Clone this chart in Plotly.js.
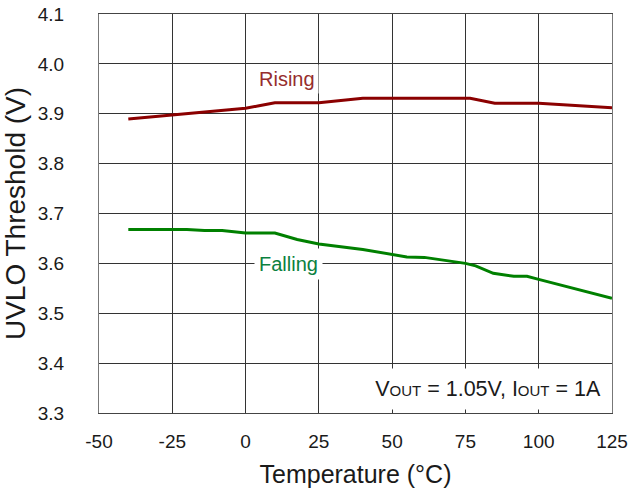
<!DOCTYPE html>
<html>
<head>
<meta charset="utf-8">
<script src="https://cdn.plot.ly/plotly-3.0.1.min.js"></script>
<style>html,body{margin:0;padding:0;background:#fff;}#chart{width:630px;height:495px;}</style>
</head>
<body>
<div id="chart"></div>
<script>
// Rising threshold
var risingTemp = [-40, -25, 0, 4.6, 10, 25, 40, 76.6, 85, 100, 125];
var risingV    = [3.8895, 3.898, 3.911, 3.916, 3.922, 3.922, 3.931, 3.931, 3.921, 3.921, 3.912];
// Falling threshold
var fallingTemp = [-40, -25, -20, -14, -8, 0, 10, 17.6, 25, 40, 47, 55, 61, 75, 78.5, 84.5, 91.5, 96, 100, 125];
var fallingV    = [3.668, 3.668, 3.668, 3.666, 3.666, 3.661, 3.661, 3.648, 3.639, 3.628, 3.621, 3.613, 3.612, 3.600, 3.595, 3.580, 3.574, 3.574, 3.568, 3.530];
var xTicks = [-50, -25, 0, 25, 50, 75, 100, 125];
var yTicks = [3.3, 3.4, 3.5, 3.6, 3.7, 3.8, 3.9, 4.0, 4.1];

var font = "Liberation Sans, Arial, sans-serif";
var ink = "#1a1a1a";
var traces = [
  {x: risingTemp, y: risingV, mode: "lines", line: {color: "#8B0000", width: 3}, hoverinfo: "skip"},
  {x: fallingTemp, y: fallingV, mode: "lines", line: {color: "#008000", width: 3}, hoverinfo: "skip"}
];
var layout = {
  width: 630, height: 495,
  margin: {l: 99, r: 18, t: 14, b: 82},
  paper_bgcolor: "#fff", plot_bgcolor: "#fff",
  showlegend: false,
  font: {family: font, color: ink, size: 19},
  xaxis: {
    range: [-50, 125], tickvals: xTicks, ticktext: xTicks.map(String),
    showgrid: true, gridcolor: "#333", gridwidth: 1,
    showline: true, linecolor: "#444", linewidth: 1, mirror: true,
    ticks: "", zeroline: false, ticklabelstandoff: 11,
    tickfont: {size: 19, family: font, color: ink},
    title: {text: "Temperature (°C)", font: {size: 25, family: font, color: ink}, standoff: 14}
  },
  yaxis: {
    range: [3.3, 4.1], tickvals: yTicks, ticktext: yTicks.map(function(v){return v.toFixed(1);}),
    showgrid: true, gridcolor: "#333", gridwidth: 1,
    showline: true, linecolor: "#777", linewidth: 1, mirror: true,
    ticks: "", zeroline: false, ticklabelstandoff: 30,
    tickfont: {size: 19, family: font, color: ink},
    title: {text: "UVLO Threshold (V)", font: {size: 28, family: font, color: ink}, standoff: 8}
  },
  annotations: [
    {x: 14.1, y: 3.970, xref: "x", yref: "y", text: "Rising", showarrow: false,
     font: {size: 20, family: font, color: "#962D2D"}, bgcolor: "#fff", borderpad: 3},
    {x: 14.6, y: 3.599, xref: "x", yref: "y", text: "Falling", showarrow: false,
     font: {size: 20, family: font, color: "#0B8040"}, bgcolor: "#fff", borderpad: 4},
    {x: 125, y: 3.349, xref: "x", yref: "y", xanchor: "right", xshift: -2,
     text: "V<span style=\"font-size:15px\">OUT</span> = 1.05V, I<span style=\"font-size:15px\">OUT</span> = 1A",
     showarrow: false, width: 255, align: "right",
     font: {size: 21.5, family: font, color: ink}, bgcolor: "#fff", borderpad: 8}
  ]
};
Plotly.newPlot("chart", traces, layout, {staticPlot: true});
</script>
</body>
</html>
